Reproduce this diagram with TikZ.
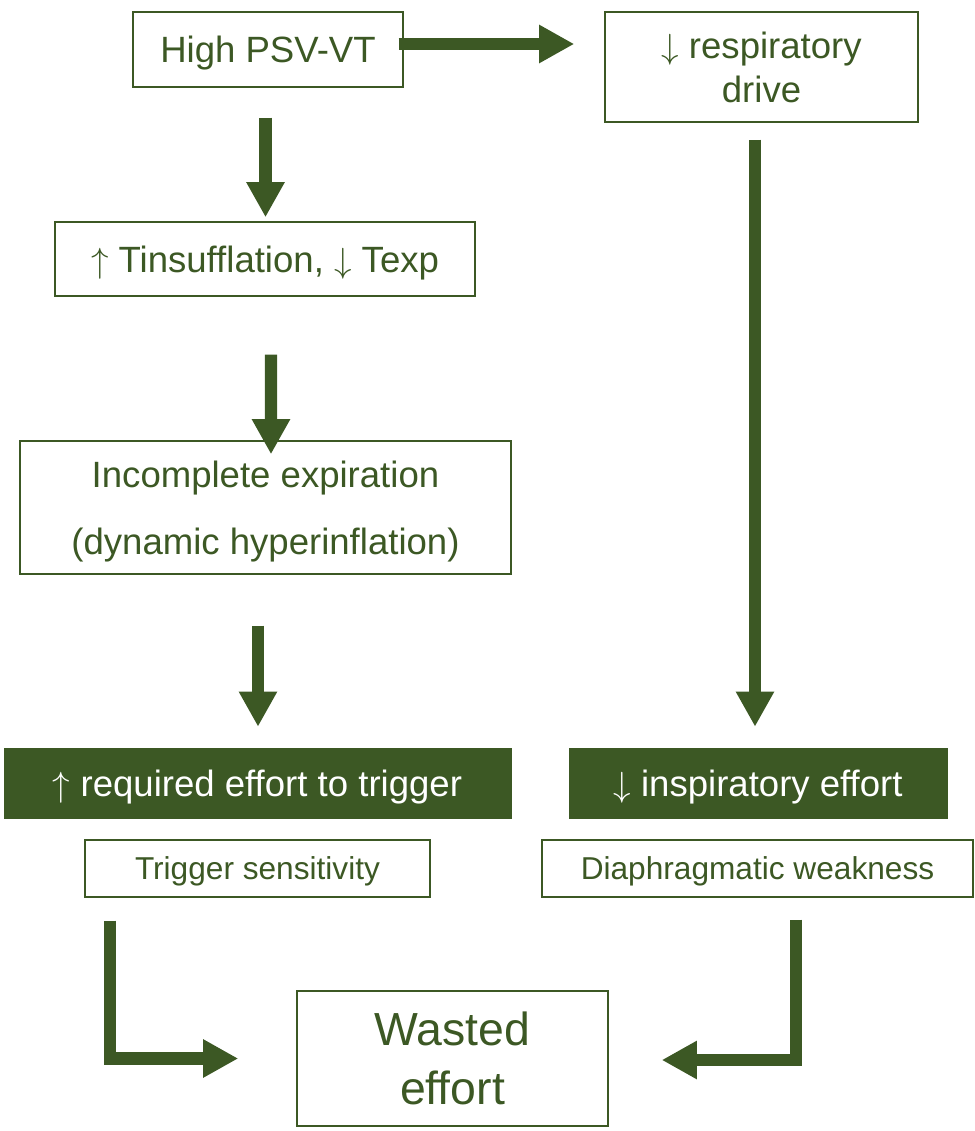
\documentclass[tikz,border=0pt]{standalone}
\usepackage{fontspec}
\setmainfont{Liberation Sans}
\usetikzlibrary{arrows.meta,calc}
\definecolor{leaf}{RGB}{60,88,36}
\newcommand\arrup{$\uparrow$}
\newcommand\arrdown{$\downarrow$}

\begin{document}
\begin{tikzpicture}[x=0.025cm,y=-0.025cm,
	box/.style={draw=leaf,line width=1pt,text=leaf,inner sep=0pt,text depth=0pt,align=center,font=\fontsize{26}{31}\selectfont},
	dark/.style={fill=leaf,draw=leaf,text=white,inner sep=0pt,text depth=0pt,align=center,font=\fontsize{26}{31}\selectfont},
	small/.style={font=\fontsize{22.5}{27}\selectfont},
	flow/.style={draw=leaf,line width=8.6pt,-{Triangle[length=25pt,width=25.6pt]}}]
	\useasboundingbox (0,0) rectangle (974,1131);
	% left column
	\node[box,minimum width=6.75cm,minimum height=1.875cm] (high) at (268,49.5) {High PSV-VT};
	\node[box,minimum width=10.5cm,minimum height=1.85cm] (tins) at (265,259) {\arrup\ Tinsufflation, \arrdown\ Texp};
	\node[box,minimum width=12.275cm,minimum height=3.325cm,font=\fontsize{26}{48}\selectfont] (inc) at (265.5,507.5) {Incomplete expiration\\(dynamic hyperinflation)};
	\node[dark,minimum width=12.675cm,minimum height=1.75cm] (req) at (257.5,783) {\arrup\ required effort to trigger};
	\node[box,small,minimum width=8.625cm,minimum height=1.425cm] (trig) at (257.5,868.5) {Trigger sensitivity};
	% right column
	\node[box,minimum width=7.825cm,minimum height=2.75cm] (resp) at (761.5,67) {\arrdown\ respiratory\\drive};
	\node[dark,minimum width=9.45cm,minimum height=1.75cm] (insp) at (758,783) {\arrdown\ inspiratory effort};
	\node[box,small,minimum width=10.775cm,minimum height=1.425cm] (diaph) at (757.5,868.5) {Diaphragmatic weakness};
	% bottom
	\node[box,minimum width=7.775cm,minimum height=3.375cm,font=\fontsize{33}{42}\selectfont] (wasted) at (452.5,1058.5) {Wasted\\effort};

	\draw[flow] ($(high.east)+(-5,-5.5)$) -- ($(high.east -| resp.west)+(-30,-5.5)$);
	\draw[flow] ($(tins.north |- high.south)+(0.5,30)$) -- ($(tins.north)+(0.5,-4)$);
	\draw[flow] ($(tins.south)+(6,58)$) -- ($(inc.north)+(5.5,14)$);
	\draw[flow] ($(req.north |- inc.south)+(0.5,51)$) -- ($(req.north)+(0.5,-21)$);
	\draw[flow] ($(resp.south)+(-6.5,17)$) -- ($(insp.north)+(-3,-21)$);
	\draw[flow] ($(trig.south west)+(26,23)$) |- ($(wasted.west)+(-58,0)$);
	\draw[flow] ($(diaph.south)+(38.5,22)$) |- ($(wasted.east)+(53,1.5)$);
\end{tikzpicture}
\end{document}
